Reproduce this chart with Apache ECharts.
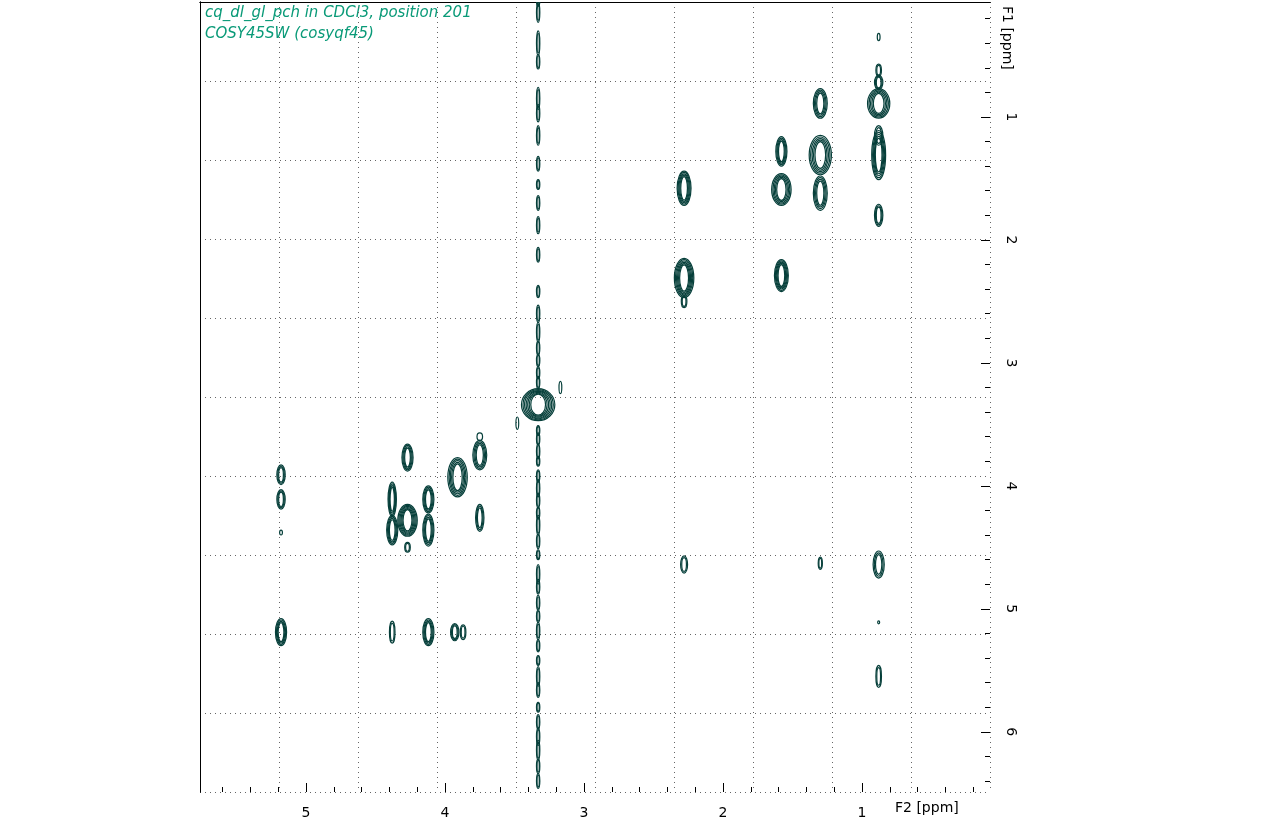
<!DOCTYPE html>
<html><head><meta charset="utf-8">
<script src="https://cdn.jsdelivr.net/npm/echarts@6/dist/echarts.min.js"></script>
<style>html,body{margin:0;background:#fff}#c{width:1285px;height:821px}</style></head>
<body><div id="c"></div>
<script>
// peaks: [F2 ppm, F1 ppm, half-width F2 ppm, half-height F1 ppm, rings]
const peaks = [
 [0.88,0.35,0.01,0.03,1],[0.88,0.62,0.02,0.05,2],[0.88,0.72,0.03,0.06,3],[0.88,0.89,0.08,0.12,5],
 [0.88,1.15,0.03,0.08,2],[0.88,1.31,0.05,0.20,5],[0.88,1.80,0.03,0.09,3],[0.88,4.64,0.04,0.11,3],
 [0.88,5.55,0.02,0.09,2],[0.88,5.11,0.005,0.01,1],
 [1.30,0.89,0.05,0.12,4],[1.30,1.31,0.08,0.16,5],[1.30,1.62,0.05,0.14,4],[1.30,4.63,0.015,0.05,2],
 [1.58,1.28,0.04,0.12,4],[1.58,1.59,0.07,0.13,5],[1.58,2.29,0.05,0.13,5],
 [2.28,1.58,0.05,0.14,5],[2.28,2.31,0.07,0.16,6],[2.28,2.50,0.02,0.05,2],[2.28,4.64,0.025,0.07,2],
 [3.33,3.34,0.12,0.13,7],[3.17,3.20,0.01,0.05,1],[3.48,3.49,0.01,0.05,1],
 [5.18,3.91,0.03,0.08,3],[5.18,4.11,0.03,0.08,3],[5.18,4.38,0.01,0.02,1],[5.18,5.19,0.04,0.11,4],
 [4.38,4.11,0.03,0.14,4],[4.38,4.36,0.04,0.12,4],[4.38,5.19,0.02,0.09,2],
 [4.27,3.77,0.04,0.11,4],[4.27,4.28,0.07,0.13,6],[4.27,4.50,0.02,0.04,2],
 [4.12,4.11,0.04,0.11,4],[4.12,4.36,0.04,0.13,4],[4.12,5.19,0.04,0.11,4],
 [3.91,3.93,0.07,0.16,5],[3.93,5.19,0.03,0.07,3],[3.87,5.19,0.02,0.06,2],
 [3.75,3.75,0.05,0.12,4],[3.75,3.60,0.02,0.03,1],[3.75,4.26,0.03,0.11,3]
];
// streak along F2 = 3.33: F1 centres and half-heights
const streakY = [0.05,0.15,0.40,0.55,0.85,0.97,1.15,1.38,1.55,1.70,1.88,2.12,2.42,2.60,2.75,2.88,2.98,3.08,3.16,3.55,3.62,3.72,3.80,3.92,4.02,4.12,4.22,4.32,4.45,4.56,4.72,4.82,4.95,5.06,5.18,5.30,5.42,5.55,5.66,5.80,5.92,6.04,6.15,6.28,6.40];
const streakH = [0.05,0.08,0.10,0.06,0.09,0.07,0.08,0.06,0.04,0.06,0.07,0.06,0.05,0.07,0.08,0.06,0.05,0.05,0.05,0.04,0.05,0.06,0.04,0.05,0.07,0.06,0.05,0.08,0.06,0.04,0.08,0.06,0.06,0.05,0.07,0.05,0.04,0.08,0.06,0.04,0.06,0.07,0.08,0.06,0.06];
const xTicks = [1,2,3,4,5];
const yTicks = [1,2,3,4,5,6];
const streakData = streakY.map((y,i)=>[3.33,y,0.012,streakH[i],2]);
const allPeaks = peaks.concat(streakData);
const C = '#063f3a';
function renderItem(params, api){
  const x=api.value(0), y=api.value(1), rx=api.value(2), ry=api.value(3), n=api.value(4);
  const c=api.coord([x,y]);
  const e=api.coord([x-rx,y+ry]);
  const w=Math.abs(e[0]-c[0]), h=Math.abs(e[1]-c[1]);
  const children=[];
  for(let k=1;k<=n;k++){
    const f=k/n;
    children.push({type:'ellipse',shape:{cx:c[0],cy:c[1],rx:Math.max(1,w*(0.35+0.65*f)),ry:Math.max(1.5,h*(0.6+0.4*f))},style:{fill:null,stroke:C,lineWidth:1.2}});
  }
  return {type:'group',children};
}
const minorX=[], minorY=[];
for(let v=0.2;v<5.8;v+=0.2) minorX.push(+v.toFixed(1));
for(let v=0.2;v<6.5;v+=0.2) minorY.push(+v.toFixed(1));
const chart=echarts.init(document.getElementById('c'));
const grid={left:200,top:2,width:790,height:790};
const lab={color:'#000',fontFamily:'DejaVu Sans',fontSize:14};
const XR={type:'value',inverse:true,min:0.079,max:5.763,position:'bottom',splitLine:{show:false}};
const YR={type:'value',inverse:true,min:0.065,max:6.49,position:'right',splitLine:{show:false}};
function tickAx(base,vals,len){return Object.assign({},base,{axisLine:{show:false},axisLabel:{show:false},
  axisTick:{inside:true,customValues:vals,length:len,lineStyle:{color:'#000'}}});}
chart.setOption({
 animation:false,
 grid:grid,
 xAxis:[
  Object.assign({},XR,{axisLine:{lineStyle:{color:'#000'}},axisTick:{show:false},axisLabel:Object.assign({customValues:xTicks,margin:14},lab)}),
  tickAx(XR,xTicks,9), tickAx(XR,minorX,5),
  {type:'value',min:0,max:790,interval:79,position:'top',axisLine:{show:true,lineStyle:{color:'#000'}},axisTick:{show:false},axisLabel:{show:false},
   splitLine:{show:true,lineStyle:{type:[1,4],color:'#666'}}}
 ],
 yAxis:[
  Object.assign({},YR,{axisLine:{lineStyle:{color:'#000'}},axisTick:{show:false},axisLabel:Object.assign({customValues:yTicks,rotate:-90,margin:14},lab)}),
  tickAx(YR,yTicks,9), tickAx(YR,minorY,5),
  {type:'value',min:0,max:790,interval:79,inverse:true,position:'left',axisLine:{show:true,lineStyle:{color:'#000'}},axisTick:{show:false},axisLabel:{show:false},
   splitLine:{show:true,lineStyle:{type:[1,4],color:'#666'}}}
 ],
 graphic:[
  {type:'text',left:895,top:801,style:{text:'F2 [ppm]',fill:'#000',font:'14px DejaVu Sans'}},
  {type:'text',x:1014,y:6,rotation:-Math.PI/2,style:{text:'F1 [ppm]',fill:'#000',font:'14px DejaVu Sans'}},
  {type:'text',left:205,top:6,style:{text:'cq_dl_gl_pch in CDCl3, position 201',fill:'#0a9a78',font:'italic 15px DejaVu Sans'}},
  {type:'text',left:205,top:27,style:{text:'COSY45SW (cosyqf45)',fill:'#0a9a78',font:'italic 15px DejaVu Sans'}}
 ],
 series:[{type:'custom',xAxisIndex:0,yAxisIndex:0,renderItem:renderItem,data:allPeaks,clip:true}]
});
</script></body></html>
